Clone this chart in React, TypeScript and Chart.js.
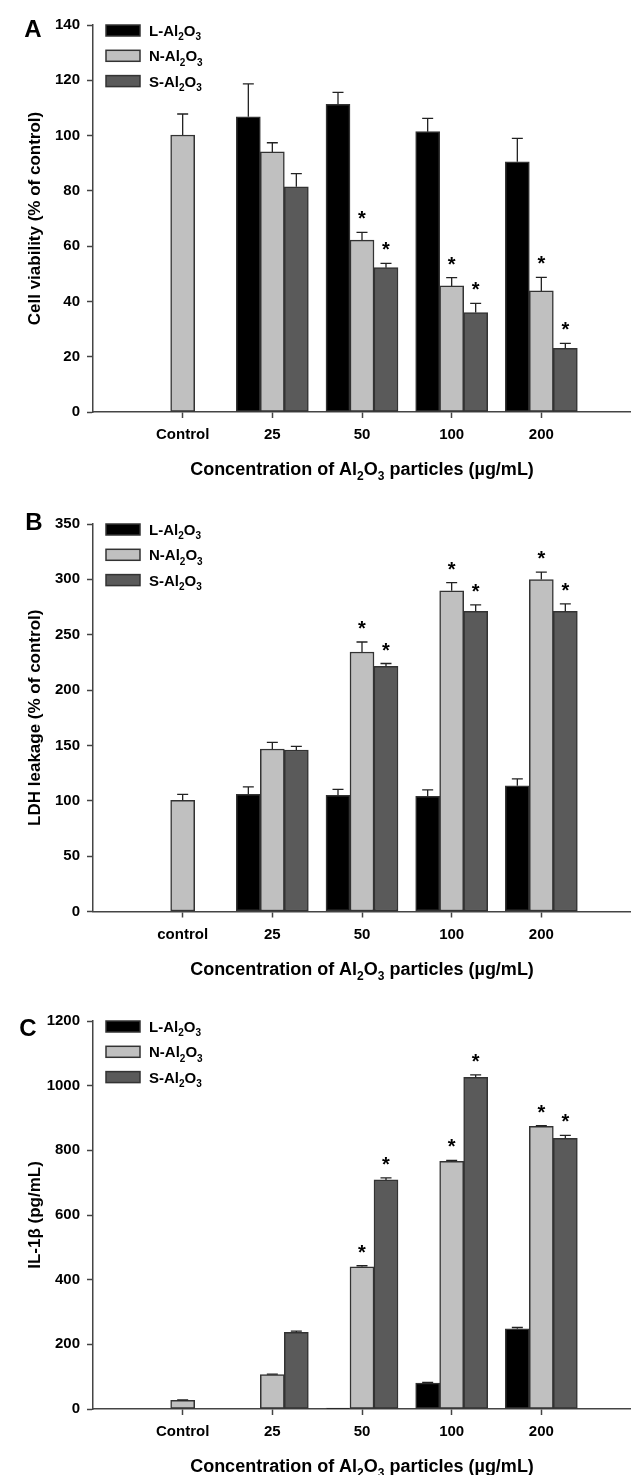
import React, { useEffect, useRef } from 'react';
import { Chart, registerables } from 'chart.js';

Chart.register(...registerables);

// ---------- data ----------
const seriesNames = ['L-Al2O3', 'N-Al2O3', 'S-Al2O3'];
const seriesColors = ['#000000', '#c0c0c0', '#5a5a5a'];
const xTitle = 'Concentration of Al2O3 particles (\u00b5g/mL)';

// Panel A: cell viability
const viabilityCategories = ['Control', '25', '50', '100', '200'];
const viabilityL = [null, 106.8, 111.3, 101.4, 90.5];
const viabilityLErr = [null, 11.9, 4.3, 4.8, 8.5];
const viabilityN = [100.2, 94.1, 62.2, 45.6, 43.8];
const viabilityNErr = [7.6, 3.3, 2.8, 3.0, 4.9];
const viabilityS = [null, 81.5, 52.2, 36.0, 23.0];
const viabilitySErr = [null, 4.7, 1.6, 3.3, 1.8];
const viabilitySigN = [false, false, true, true, true];
const viabilitySigS = [false, false, true, true, true];

// Panel B: LDH leakage
const ldhCategories = ['control', '25', '50', '100', '200'];
const ldhL = [null, 105.8, 104.9, 104.0, 113.6];
const ldhLErr = [null, 6.7, 5.4, 5.8, 6.2];
const ldhN = [100.4, 146.8, 234.4, 289.6, 299.9];
const ldhNErr = [5.4, 6.0, 9.0, 7.4, 6.6];
const ldhS = [null, 145.9, 221.5, 271.2, 271.2];
const ldhSErr = [null, 3.3, 2.5, 5.8, 6.6];
const ldhSigN = [false, false, true, true, true];
const ldhSigS = [false, false, true, true, true];

// Panel C: IL-1beta
const il1bCategories = ['Control', '25', '50', '100', '200'];
const il1bL = [null, 0, 3, 80, 248];
const il1bLErr = [null, 0, 0, 2, 4];
const il1bN = [26.7, 106.8, 440, 766, 874];
const il1bNErr = [1.5, 1, 3, 3, 2];
const il1bS = [null, 237, 708.6, 1025.5, 837];
const il1bSErr = [null, 4, 6, 8, 9];
const il1bSigN = [false, false, true, true, true];
const il1bSigS = [false, false, true, true, true];

// ---------- styling ----------
const FONT = '"Liberation Sans", Arial, Helvetica, sans-serif';
const AXIS = '#444444';
const WIDTH = 631;

type Num = number | null;
interface PanelCfg {
  letter: string;
  letterDx: number;
  letterDy: number;
  yTitle: string;
  yMax: number;
  yStep: number;
  categories: string[];
  values: Num[][];
  errors: Num[][];
  sig: (boolean[] | null)[];
  height: number;
  plotTop: number;
  plotBottom: number;
}

const panels: PanelCfg[] = [
  {
    letter: 'A', letterDx: 33, letterDy: 3.5,
    yTitle: 'Cell viability (% of control)', yMax: 140, yStep: 20,
    categories: viabilityCategories,
    values: [viabilityL, viabilityN, viabilityS],
    errors: [viabilityLErr, viabilityNErr, viabilitySErr],
    sig: [null, viabilitySigN, viabilitySigS],
    height: 498, plotTop: 25, plotBottom: 412,
  },
  {
    letter: 'B', letterDx: 34, letterDy: -3,
    yTitle: 'LDH leakage (% of control)', yMax: 350, yStep: 50,
    categories: ldhCategories,
    values: [ldhL, ldhN, ldhS],
    errors: [ldhLErr, ldhNErr, ldhSErr],
    sig: [null, ldhSigN, ldhSigS],
    height: 498, plotTop: 26, plotBottom: 413.5,
  },
  {
    letter: 'C', letterDx: 28, letterDy: 6.5,
    yTitle: 'IL-1\u03b2 (pg/mL)', yMax: 1200, yStep: 200,
    categories: il1bCategories,
    values: [il1bL, il1bN, il1bS],
    errors: [il1bLErr, il1bNErr, il1bSErr],
    sig: [null, il1bSigN, il1bSigS],
    height: 479, plotTop: 25, plotBottom: 413,
  },
];

// split text into runs; a digit directly after a letter is a subscript
function splitRuns(text: string) {
  const runs: { t: string; sub: boolean }[] = [];
  for (let i = 0; i < text.length; i++) {
    const ch = text[i];
    const sub = /[0-9]/.test(ch) && i > 0 && /[A-Za-z]/.test(text[i - 1]);
    const last = runs[runs.length - 1];
    if (last && last.sub === sub) last.t += ch;
    else runs.push({ t: ch, sub });
  }
  return runs;
}

function drawRich(ctx: CanvasRenderingContext2D, text: string, x: number, y: number, size: number, align: 'left' | 'center') {
  const runs = splitRuns(text);
  const mainF = `bold ${size}px ${FONT}`;
  const subF = `bold ${Math.round(size * 0.68)}px ${FONT}`;
  let total = 0;
  runs.forEach((r) => {
    ctx.font = r.sub ? subF : mainF;
    total += ctx.measureText(r.t).width;
  });
  let cx = align === 'center' ? x - total / 2 : x;
  ctx.textAlign = 'left';
  ctx.textBaseline = 'alphabetic';
  ctx.fillStyle = '#000';
  runs.forEach((r) => {
    ctx.font = r.sub ? subF : mainF;
    ctx.fillText(r.t, cx, r.sub ? y + size * 0.3 : y);
    cx += ctx.measureText(r.t).width;
  });
}

function makeOverlay(cfg: PanelCfg) {
  return {
    id: 'overlay',
    afterDatasetsDraw(chart: any) {
      const ctx: CanvasRenderingContext2D = chart.ctx;
      const yScale = chart.scales.y;
      ctx.save();
      cfg.values.forEach((vals, di) => {
        const meta = chart.getDatasetMeta(di);
        vals.forEach((v, j) => {
          if (v === null) return;
          const el = meta.data[j + 1];
          if (!el) return;
          const err = cfg.errors[di][j] ?? 0;
          const yTop = yScale.getPixelForValue(v + err);
          const yBar = yScale.getPixelForValue(v);
          if (err > 0) {
            ctx.strokeStyle = '#222';
            ctx.lineWidth = 1.3;
            ctx.beginPath();
            ctx.moveTo(el.x, yBar);
            ctx.lineTo(el.x, yTop);
            ctx.moveTo(el.x - 5.5, yTop);
            ctx.lineTo(el.x + 5.5, yTop);
            ctx.stroke();
          }
          const sig = cfg.sig[di];
          if (sig && sig[j]) {
            ctx.font = `bold 20px ${FONT}`;
            ctx.textAlign = 'center';
            ctx.textBaseline = 'alphabetic';
            ctx.fillStyle = '#000';
            ctx.fillText('*', el.x, yTop - 18 + 11);
          }
        });
      });
      ctx.restore();
    },
    afterDraw(chart: any) {
      const ctx: CanvasRenderingContext2D = chart.ctx;
      const area = chart.chartArea;
      ctx.save();
      // panel letter
      ctx.font = `bold 24px ${FONT}`;
      ctx.textAlign = 'center';
      ctx.textBaseline = 'alphabetic';
      ctx.fillStyle = '#000';
      ctx.fillText(cfg.letter, cfg.letterDx, area.top + cfg.letterDy + 8.6);
      // legend
      seriesNames.forEach((name, i) => {
        const cy = area.top + 5.5 + i * 25.3;
        ctx.fillStyle = seriesColors[i];
        ctx.fillRect(106, cy - 5.5, 34, 11);
        ctx.strokeStyle = '#333';
        ctx.lineWidth = 1.5;
        ctx.strokeRect(106, cy - 5.5, 34, 11);
        drawRich(ctx, name, 149, cy + 5.4, 15, 'left');
      });
      // x axis title
      drawRich(ctx, xTitle, (area.left + area.right) / 2, area.bottom + 63, 18, 'center');
      ctx.restore();
    },
  };
}

function Panel({ cfg }: { cfg: PanelCfg }) {
  const ref = useRef<HTMLCanvasElement>(null);
  useEffect(() => {
    if (!ref.current) return;
    const labels = ['', ...cfg.categories, ''];
    const lastIndex = labels.length - 1;
    const chart = new Chart(ref.current, {
      type: 'bar',
      data: {
        labels,
        datasets: cfg.values.map((vals, i) => ({
          label: seriesNames[i],
          data: [null, ...vals, null],
          backgroundColor: seriesColors[i],
          borderColor: '#333',
          borderWidth: 1.5,
          borderSkipped: false,
          barThickness: 24,
          skipNull: true,
        })),
      },
      options: {
        responsive: false,
        animation: false,
        devicePixelRatio: 1,
        layout: { padding: { top: cfg.plotTop, right: 0, bottom: 0, left: 0 } },
        plugins: { legend: { display: false }, tooltip: { enabled: false } },
        scales: {
          x: {
            type: 'category',
            offset: false,
            grid: {
              offset: false,
              drawOnChartArea: false,
              drawTicks: true,
              tickLength: 6,
              tickWidth: 1.5,
              tickColor: (c: any) => (c.index === 0 || c.index === lastIndex ? 'rgba(0,0,0,0)' : AXIS),
            },
            border: { color: AXIS, width: 1.5 },
            ticks: {
              autoSkip: false,
              maxRotation: 0,
              padding: 8,
              color: '#000',
              font: { family: FONT, size: 15, weight: 'bold' },
            },
            afterFit: (s: any) => {
              s.height = cfg.height - cfg.plotBottom;
              s.paddingLeft = 0;
              s.paddingRight = 0;
            },
          },
          y: {
            min: 0,
            max: cfg.yMax,
            grid: { drawOnChartArea: false, drawTicks: true, tickLength: 6, tickWidth: 1.5, tickColor: AXIS },
            border: { color: AXIS, width: 1.5 },
            ticks: {
              stepSize: cfg.yStep,
              padding: 7,
              color: '#000',
              font: { family: FONT, size: 15, weight: 'bold' },
              callback: (v: any) => String(v),
            },
            title: {
              display: true,
              text: cfg.yTitle,
              color: '#000',
              font: { family: FONT, size: 17, weight: 'bold' },
              padding: { top: 25, bottom: 0 },
            },
            afterFit: (s: any) => {
              s.width = 93;
            },
          },
        },
      } as any,
      plugins: [makeOverlay(cfg)],
    });
    return () => chart.destroy();
  }, [cfg]);
  return (
    <canvas
      ref={ref}
      width={WIDTH}
      height={cfg.height}
      style={{ display: 'block', width: WIDTH, height: cfg.height }}
    />
  );
}

export default function App() {
  useEffect(() => {
    document.body.style.margin = '0';
    document.body.style.background = '#fff';
  }, []);
  return (
    <div style={{ width: WIDTH, background: '#fff' }}>
      {panels.map((p) => (
        <Panel key={p.letter} cfg={p} />
      ))}
    </div>
  );
}
